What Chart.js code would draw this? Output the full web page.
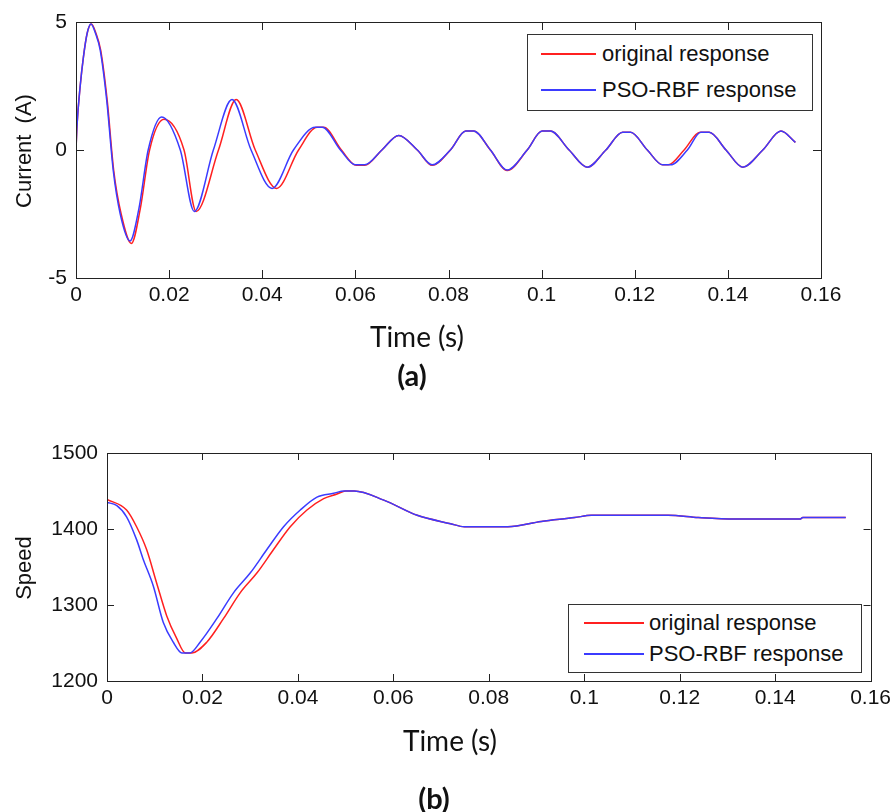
<!DOCTYPE html>
<html>
<head>
<meta charset="utf-8">
<script src="https://cdn.jsdelivr.net/npm/chart.js@4.4.1/dist/chart.umd.min.js"></script>
<style>
  body { margin:0; background:#fff; }
  #page { position:relative; width:896px; height:812px; background:#fff; overflow:hidden; }
  canvas { position:absolute; left:0; }
  .lbl { position:absolute; transform:translate(-50%,-50%); white-space:nowrap; color:#111; }
  .ylab { font:22px 'Liberation Sans', Arial, sans-serif; transform:translate(-50%,-50%) rotate(-90deg); }
  .xlab { font:28px Lato, 'Open Sans', sans-serif; }
  .cap { font:bold 29px Lato, 'Open Sans', sans-serif; }
  .legend { position:absolute; border:1px solid #333; box-sizing:border-box; background:#fff; }
  .lg-line { position:absolute; height:2px; }
  .lg-txt { position:absolute; font:22px 'Liberation Sans', Arial, sans-serif; color:#111; transform:translateY(-50%); white-space:nowrap; }
</style>
</head>
<body>
<div id="page">
  <canvas id="cA" width="896" height="320" style="top:0"></canvas>
  <canvas id="cB" width="896" height="300" style="top:430px"></canvas>

  <div class="lbl ylab" style="left:24px;top:151px;word-spacing:5px">Current (A)</div>
  <div class="lbl xlab" style="left:417px;top:336px">Time (s)</div>
  <div class="lbl cap" style="left:412px;top:374px">(a)</div>

  <div class="lbl ylab" style="left:24px;top:568px">Speed</div>
  <div class="lbl xlab" style="left:450px;top:740px">Time (s)</div>
  <div class="lbl cap" style="left:434px;top:797px">(b)</div>

  <div class="legend" style="left:527px;top:34px;width:286px;height:77px">
    <div class="lg-line" style="left:13px;top:18px;width:55px;background:#ff2020"></div>
    <div class="lg-txt" style="left:74px;top:19px">original response</div>
    <div class="lg-line" style="left:13px;top:54px;width:55px;background:#3b3bff"></div>
    <div class="lg-txt" style="left:74px;top:55px">PSO-RBF response</div>
  </div>
  <div class="legend" style="left:568px;top:604px;width:294px;height:69px">
    <div class="lg-line" style="left:15px;top:17px;width:60px;background:#ff2020"></div>
    <div class="lg-txt" style="left:80px;top:18px">original response</div>
    <div class="lg-line" style="left:15px;top:48px;width:60px;background:#3b3bff"></div>
    <div class="lg-txt" style="left:80px;top:49px">PSO-RBF response</div>
  </div>
</div>
<script>
// ---- data: (a) current ----
const curTimeOrig = [0,0.0002,0.0009,0.0016,0.0024,0.0033,0.0043,0.0053,0.0067,0.0081,0.0097,0.0119,0.0138,0.0158,0.0189,0.0232,0.0258,0.0306,0.0344,0.0385,0.0431,0.0478,0.0518,0.0532,0.0570,0.0602,0.0620,0.0657,0.0693,0.0733,0.0765,0.0804,0.0837,0.0854,0.0890,0.0926,0.0969,0.1001,0.1019,0.1059,0.1098,0.1138,0.1174,0.1191,0.1227,0.1260,0.1272,0.1306,0.1340,0.1360,0.1396,0.1432,0.1475,0.1514,0.1545];
const curOrig     = [0,0.9,2.5,3.64,4.56,4.92,4.55,3.9,1.94,-0.8,-2.5,-3.65,-2.3,0,1.2,0,-2.4,0,1.97,0,-1.5,0,0.89,0.89,0,-0.6,-0.6,0,0.57,0,-0.6,0,0.74,0.74,0,-0.8,0,0.74,0.74,0,-0.67,0,0.69,0.69,0,-0.58,-0.58,0,0.69,0.69,0,-0.67,0,0.74,0.3];
const curTimePso  = [0,0.0002,0.0009,0.0016,0.0024,0.0032,0.0042,0.0052,0.0066,0.0080,0.0095,0.0116,0.0135,0.0155,0.0184,0.0224,0.0254,0.0295,0.0335,0.0376,0.0421,0.0467,0.0514,0.0529,0.0568,0.0600,0.0620,0.0657,0.0693,0.0733,0.0765,0.0804,0.0837,0.0854,0.0890,0.0926,0.0969,0.1001,0.1019,0.1059,0.1098,0.1138,0.1174,0.1191,0.1227,0.1260,0.1277,0.1313,0.1342,0.1360,0.1396,0.1432,0.1475,0.1514,0.1545];
const curPso      = [0,0.9,2.5,3.64,4.56,4.92,4.55,3.9,1.94,-0.8,-2.5,-3.55,-2.3,0,1.29,0,-2.4,0,1.97,0,-1.5,0,0.89,0.89,0,-0.58,-0.58,0,0.57,0,-0.58,0,0.74,0.74,0,-0.78,0,0.74,0.74,0,-0.67,0,0.69,0.69,0,-0.58,-0.58,0,0.69,0.69,0,-0.67,0,0.74,0.3];

// ---- data: (b) speed ----
const spdTimeOrig = [0,0.0041,0.0062,0.0083,0.0104,0.0125,0.0146,0.0164,0.0178,0.0209,0.0244,0.0279,0.0314,0.0349,0.0384,0.0419,0.0454,0.0482,0.0500,0.0518,0.058,0.065,0.072,0.0749,0.084,0.091,0.098,0.1015,0.1176,0.1239,0.1316,0.1452,0.1458,0.1548];
const spdOrig     = [1439,1425,1403,1373,1329,1286,1256,1237,1237,1251,1282,1316,1342,1373,1403,1425,1440,1446,1450,1450,1438,1418,1407,1403,1403,1410,1415,1418,1418,1415,1413,1413,1415,1415];
const spdTimePso  = [0,0.002,0.0041,0.0062,0.0076,0.0097,0.0118,0.0139,0.0157,0.0174,0.0195,0.023,0.0265,0.030,0.0335,0.037,0.0405,0.044,0.0475,0.0497,0.0518,0.058,0.065,0.072,0.0749,0.084,0.091,0.098,0.1015,0.1176,0.1239,0.1316,0.1452,0.1458,0.1548];
const spdPso      = [1435,1431,1416,1386,1360,1325,1277,1251,1237,1237,1251,1282,1316,1342,1373,1403,1425,1442,1447,1450,1450,1438,1418,1407,1403,1403,1410,1415,1418,1418,1415,1413,1413,1415,1415];

const xTicksMin = 0, xTicksMax = 0.16, xStep = 0.02;

const pts = (xs, ys) => xs.map((x,i) => ({x, y: ys[i]}));
const FONT = "'Liberation Sans', Arial, sans-serif";

// frame + inward ticks, matlab style
const framePlugin = {
  id: 'frame',
  afterDraw(chart, args, opts) {
    const {ctx, chartArea:a, scales} = chart;
    const L = opts.len || 7;
    ctx.save();
    ctx.strokeStyle = '#222';
    ctx.lineWidth = 1;
    ctx.beginPath();
    scales.x.ticks.forEach(t => {
      const px = Math.round(scales.x.getPixelForValue(t.value)) + 0.5;
      ctx.moveTo(px, a.top); ctx.lineTo(px, a.top + L);
      ctx.moveTo(px, a.bottom); ctx.lineTo(px, a.bottom - L);
    });
    scales.y.ticks.forEach(t => {
      const py = Math.round(scales.y.getPixelForValue(t.value)) + 0.5;
      ctx.moveTo(a.left, py); ctx.lineTo(a.left + L, py);
      ctx.moveTo(a.right, py); ctx.lineTo(a.right - L, py);
    });
    ctx.stroke();
    ctx.strokeRect(Math.round(a.left)+0.5, Math.round(a.top)+0.5, Math.round(a.right-a.left), Math.round(a.bottom-a.top));
    ctx.restore();
  }
};

const makeChart = (id, dsOrig, dsPso, yOpts, area, canvasH, tickLen) => {
  new Chart(document.getElementById(id), {
    type: 'line',
    data: {
      datasets: [
        { label:'original response', data: dsOrig, borderColor:'#ff2020', borderWidth:1.5, pointRadius:0, cubicInterpolationMode:'monotone', order:1 },
        { label:'PSO-RBF response', data: dsPso, borderColor:'#3b3bff', borderWidth:1.5, pointRadius:0, cubicInterpolationMode:'monotone', order:0 }
      ]
    },
    options: {
      responsive:false, animation:false, devicePixelRatio:1,
      layout:{ padding:{ left:0, top:area.top, right:896-area.right, bottom:0 } },
      plugins:{ legend:{display:false}, tooltip:{enabled:false}, frame:{len:tickLen} },
      scales:{
        x:{
          type:'linear', min:xTicksMin, max:xTicksMax,
          grid:{display:false, drawTicks:false}, border:{display:false},
          ticks:{ stepSize:xStep, padding:5, color:'#111', font:{family:FONT, size:21},
                  maxRotation:0, autoSkip:false, callback:v => String(+v.toFixed(2)) },
          afterFit:s => { s.height = canvasH - area.bottom; }
        },
        y:{
          min:yOpts.min, max:yOpts.max,
          grid:{display:false, drawTicks:false}, border:{display:false},
          ticks:{ stepSize:yOpts.step, padding:9, color:'#111', font:{family:FONT, size:21},
                  callback:v => String(v) },
          afterFit:s => { s.width = area.left; }
        }
      }
    },
    plugins:[framePlugin]
  });
};

makeChart('cA', pts(curTimeOrig, curOrig), pts(curTimePso, curPso),
  {min:-5, max:5, step:5}, {left:76, right:821, top:22, bottom:278}, 320, 8);
makeChart('cB', pts(spdTimeOrig, spdOrig), pts(spdTimePso, spdPso),
  {min:1200, max:1500, step:100}, {left:107, right:871, top:23, bottom:251}, 300, 7);
</script>
</body>
</html>
